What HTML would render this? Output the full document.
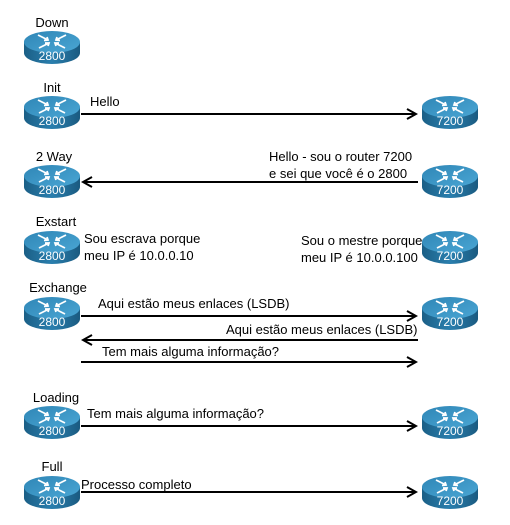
<!DOCTYPE html>
<html><head><meta charset="utf-8"><style>
html,body{margin:0;padding:0;background:#fff;}
svg{display:block;font-family:"Liberation Sans",sans-serif;}
</style></head><body>
<svg width="510" height="525" viewBox="0 0 510 525" xmlns="http://www.w3.org/2000/svg">
<defs>
<linearGradient id="side" x1="0" x2="1" y1="0" y2="0">
<stop offset="0" stop-color="#1b5f86"/><stop offset="0.5" stop-color="#2a7fae"/><stop offset="1" stop-color="#1a5a80"/>
</linearGradient>
<linearGradient id="top" x1="0" x2="1" y1="0" y2="1">
<stop offset="0" stop-color="#2f86b6"/><stop offset="1" stop-color="#4aa6d4"/>
</linearGradient>
<g id="r">
<path d="M0 11 L0 22 A28 11 0 0 0 56 22 L56 11 Z" fill="url(#side)"/>
<ellipse cx="28" cy="11" rx="28" ry="11" fill="url(#top)"/>
<g stroke="#fff" stroke-width="1.8" fill="none">
<path d="M14 4 L24 9 M20 9.5 L24 9 L23 6"/>
<path d="M42 4 L32 9 M36 9.5 L32 9 L33 6"/>
<path d="M15 17 L25 12 M21 12 L25 12 L24 15"/>
<path d="M41 17 L31 12 M35 12 L31 12 L32 15"/>
</g>
</g>
<marker id="ah" markerWidth="12" markerHeight="12" refX="10" refY="6" orient="auto" markerUnits="userSpaceOnUse">
<path d="M1 1 L10 6 L1 11" fill="none" stroke="#000" stroke-width="2"/>
</marker>
</defs>
<g>
<use href="#r" x="24" y="31"/>
<use href="#r" x="24" y="96"/>
<use href="#r" x="24" y="165"/>
<use href="#r" x="24" y="231"/>
<use href="#r" x="24" y="297"/>
<use href="#r" x="24" y="406"/>
<use href="#r" x="24" y="476"/>
<use href="#r" x="422" y="96"/>
<use href="#r" x="422" y="165"/>
<use href="#r" x="422" y="231"/>
<use href="#r" x="422" y="297"/>
<use href="#r" x="422" y="406"/>
<use href="#r" x="422" y="476"/>
</g>
<g font-size="12" fill="#fff" text-anchor="middle">
<text x="52" y="60">2800</text><text x="52" y="125">2800</text><text x="52" y="194">2800</text>
<text x="52" y="260">2800</text><text x="52" y="326">2800</text><text x="52" y="435">2800</text><text x="52" y="505">2800</text>
<text x="450" y="125">7200</text><text x="450" y="194">7200</text><text x="450" y="260">7200</text>
<text x="450" y="326">7200</text><text x="450" y="435">7200</text><text x="450" y="505">7200</text>
</g>
<g font-size="13" fill="#000" text-anchor="middle">
<text x="52" y="27">Down</text>
<text x="52" y="92">Init</text>
<text x="54" y="161">2 Way</text>
<text x="56" y="226">Exstart</text>
<text x="58" y="292">Exchange</text>
<text x="56" y="402">Loading</text>
<text x="52" y="471">Full</text>
</g>
<g stroke="#000" stroke-width="2">
<line x1="81" y1="114" x2="416" y2="114" marker-end="url(#ah)"/>
<line x1="418" y1="182" x2="83" y2="182" marker-end="url(#ah)"/>
<line x1="81" y1="316" x2="416" y2="316" marker-end="url(#ah)"/>
<line x1="418" y1="340" x2="83" y2="340" marker-end="url(#ah)"/>
<line x1="81" y1="362" x2="416" y2="362" marker-end="url(#ah)"/>
<line x1="81" y1="426" x2="416" y2="426" marker-end="url(#ah)"/>
<line x1="81" y1="492" x2="416" y2="492" marker-end="url(#ah)"/>
</g>
<g font-size="13" fill="#000">
<text x="90" y="106">Hello</text>
<text x="269" y="161">Hello - sou o router 7200</text>
<text x="269" y="178">e sei que você é o 2800</text>
<text x="84" y="243">Sou escrava porque</text>
<text x="84" y="260">meu IP é 10.0.0.10</text>
<text x="301" y="245">Sou o mestre porque</text>
<text x="301" y="262">meu IP é 10.0.0.100</text>
<text x="98" y="308">Aqui estão meus enlaces (LSDB)</text>
<text x="226" y="334">Aqui estão meus enlaces (LSDB)</text>
<text x="102" y="356">Tem mais alguma informação?</text>
<text x="87" y="418">Tem mais alguma informação?</text>
<text x="81" y="489">Processo completo</text>
</g>
</svg>
</body></html>
